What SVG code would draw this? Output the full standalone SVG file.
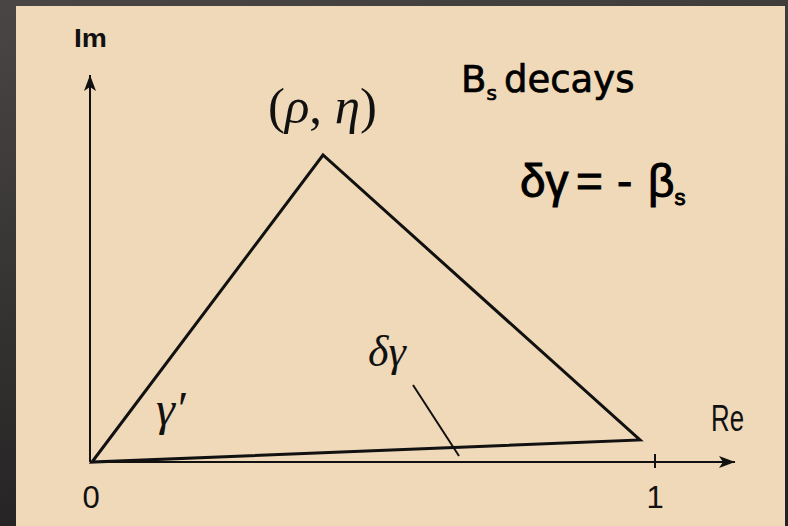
<svg xmlns="http://www.w3.org/2000/svg" width="788" height="526" viewBox="0 0 788 526">
<defs>
<linearGradient id="bg" x1="0" y1="0" x2="0.3" y2="1">
<stop offset="0" stop-color="#4a4646"/>
<stop offset="1" stop-color="#232121"/>
</linearGradient>
<marker id="ah" viewBox="0 0 16 12" refX="16" refY="6" markerWidth="16" markerHeight="12" markerUnits="userSpaceOnUse" orient="auto">
<path d="M0,0 L16,6 L0,12 L4,6 Z" fill="#111"/>
</marker>
<style>
.ax{stroke:#111;stroke-width:2;fill:none}
.tri{stroke:#111;stroke-width:3;fill:none;stroke-linejoin:miter}
.lbl{font-family:"Liberation Sans",Arial,sans-serif;fill:#111}
.math{font-family:"Liberation Serif","Times New Roman",serif;fill:#111}
.txt{font-family:"DejaVu Sans","Liberation Sans",sans-serif;fill:#000;stroke:#000;stroke-width:0.7}
.eq{font-family:"Liberation Sans",Arial,sans-serif;fill:#000;stroke:#000;stroke-width:1}
</style>
</defs>
<rect width="788" height="526" fill="url(#bg)"/>
<rect x="16" y="6" width="769" height="520" fill="#f0d9b8"/>
<g id="axes">
<line class="ax" x1="90" y1="462" x2="90" y2="75" marker-end="url(#ah)"/>
<line class="ax" x1="90" y1="462" x2="735" y2="462" marker-end="url(#ah)"/>
<line class="ax" x1="655" y1="454" x2="655" y2="468"/>
</g>
<g id="triangle">
<polygon class="tri" points="92,462 323,155 640,440"/>
</g>
<g id="connectors">
<line x1="413" y1="385" x2="459" y2="456" stroke="#111" stroke-width="2"/>
</g>
<g id="labels">
<text class="lbl" x="74" y="47" font-size="25" font-weight="bold" textLength="33" lengthAdjust="spacingAndGlyphs">Im</text>
<text class="lbl" x="711" y="431" font-size="36" textLength="33" lengthAdjust="spacingAndGlyphs">Re</text>
<text class="lbl" x="91" y="508" font-size="31" text-anchor="middle">0</text>
<text class="lbl" x="655" y="508" font-size="31" text-anchor="middle">1</text>
<text class="math" x="268" y="123" font-size="50" textLength="109" lengthAdjust="spacingAndGlyphs">(<tspan font-style="italic">ρ</tspan>, <tspan font-style="italic">η</tspan>)</text>
<text class="math" x="387" y="366" font-size="44" font-style="italic" text-anchor="middle">δγ</text>
<text class="math" x="156" y="425" font-size="48" font-style="italic">γ′</text>
</g>
<g id="notes">
<text class="txt" x="461" y="92" font-size="37">B<tspan font-size="20" dy="8">s</tspan><tspan dy="-8" x="504">decays</tspan></text>
<text class="eq" x="520" y="197" font-size="46">δγ<tspan x="576">=</tspan><tspan x="617">-</tspan><tspan x="648">β</tspan><tspan font-size="22" dy="8">s</tspan></text>
</g>
</svg>
